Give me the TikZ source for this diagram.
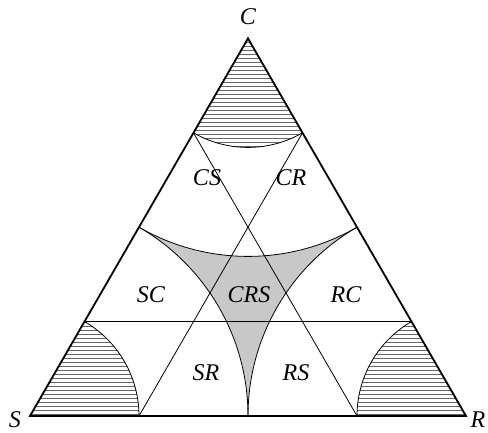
\documentclass[tikz,border=0pt]{standalone}
\usepackage{fontspec}
\setmainfont{Liberation Serif}
\usetikzlibrary{calc}
\definecolor{zonegris}{HTML}{C8C8C8}
\definecolor{hachure}{HTML}{666666}
\tikzset{
  cote/.style={line width=1.8pt, line join=miter},
  trait/.style={line width=0.8pt},
  hach/.style={line width=0.7pt, color=hachure},
  etiq/.style={font=\fontsize{24}{24}\selectfont\itshape, inner sep=0pt}
}

\begin{document}
\begin{tikzpicture}[x=1pt, y=1pt]
  \useasboundingbox (0,0) rectangle (488,433);

  \coordinate (S) at (30,17);
  \coordinate (R) at (466,17);
  \coordinate (C) at (248,394.6);
  \coordinate (sc1) at ($(S)!0.25!(C)$);
  \coordinate (sc3) at ($(S)!0.75!(C)$);
  \coordinate (rc1) at ($(R)!0.25!(C)$);
  \coordinate (rc3) at ($(R)!0.75!(C)$);
  \coordinate (sr1) at ($(S)!0.25!(R)$);
  \coordinate (sr3) at ($(S)!0.75!(R)$);

  % zone CRS
  \begin{scope}
    \clip (S) -- (R) -- (C) -- cycle;
    \fill[zonegris] (S) -- (R) -- (C) -- cycle;
    \fill[white] (S) circle (218) (R) circle (218) (C) circle (218);
  \end{scope}

  % hachures aux sommets
  \begin{scope}
    \clip (S) -- ++(0:109) arc[start angle=0, end angle=60, radius=109] -- cycle;
    \foreach \y in {19,23,...,135} \draw[hach] (0,\y) -- (488,\y);
  \end{scope}
  \begin{scope}
    \clip (R) -- ++(180:109) arc[start angle=180, end angle=120, radius=109] -- cycle;
    \foreach \y in {19,23,...,135} \draw[hach] (0,\y) -- (488,\y);
  \end{scope}
  \begin{scope}
    \clip (C) -- ++(240:109) arc[start angle=240, end angle=300, radius=109] -- cycle;
    \foreach \y in {287,291,...,395} \draw[hach] (0,\y) -- (488,\y);
  \end{scope}

  \draw[trait] (sr1) arc[start angle=0, end angle=60, radius=109];
  \draw[trait] (sr3) arc[start angle=180, end angle=120, radius=109];
  \draw[trait] (sc3) arc[start angle=240, end angle=300, radius=109];

  \draw[trait] ($(S)!0.5!(R)$) arc[start angle=0, end angle=60, radius=218];
  \draw[trait] ($(S)!0.5!(R)$) arc[start angle=180, end angle=120, radius=218];
  \draw[trait] ($(S)!0.5!(C)$) arc[start angle=240, end angle=300, radius=218];

  \draw[trait] (sc1) -- (rc1);
  \draw[trait] (sr1) -- (rc3);
  \draw[trait] (sr3) -- (sc3);

  \draw[cote] (S) -- (R) -- (C) -- cycle;

  \node[etiq] (lC) at (248,416) {C};
  \node[etiq] (lS) at (15,13) {S};
  \node[etiq] (lR) at (478,13) {R};
  \node[etiq] (cs) at (207,255) {CS};
  \node[etiq] (cr) at (291,255) {CR};
  \node[etiq] (sc) at (151,138) {SC};
  \node[etiq] (crs) at (249,138) {CRS};
  \node[etiq] (rc) at (346,138) {RC};
  \node[etiq] (sr) at (206,60) {SR};
  \node[etiq] (rs) at (296,60) {RS};
\end{tikzpicture}
\end{document}
